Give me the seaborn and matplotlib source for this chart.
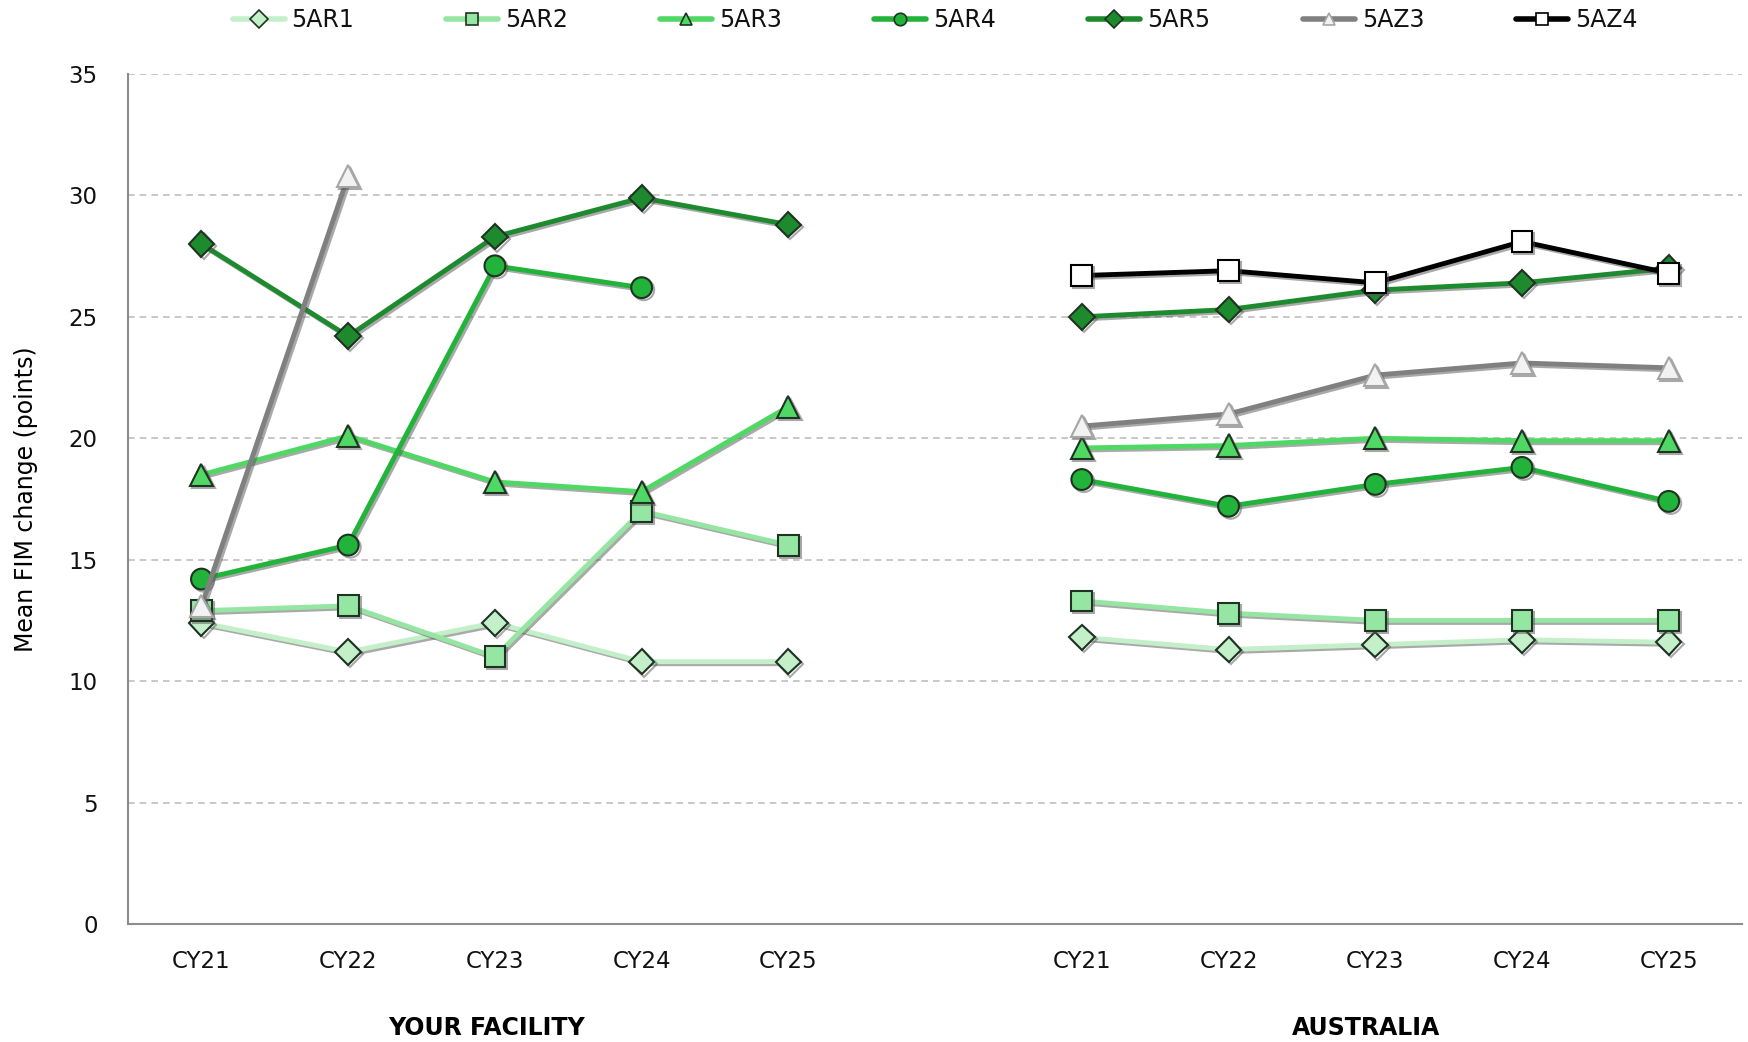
import numpy as np
import pandas as pd
import seaborn as sns
import matplotlib.pyplot as plt
import matplotlib.patheffects as pe
from matplotlib.lines import Line2D

# data
categories = ["CY21", "CY22", "CY23", "CY24", "CY25"]
groups = ["YOUR FACILITY", "AUSTRALIA"]
series = ["5AR1", "5AR2", "5AR3", "5AR4", "5AR5", "5AZ3", "5AZ4"]

# YOUR FACILITY
ar1_fac = [12.4, 11.2, 12.4, 10.8, 10.8]
ar2_fac = [12.9, 13.1, 11.0, 17.0, 15.6]
ar3_fac = [18.5, 20.1, 18.2, 17.8, 21.3]
ar4_fac = [14.2, 15.6, 27.1, 26.2, np.nan]
ar5_fac = [28.0, 24.2, 28.3, 29.9, 28.8]
az3_fac = [13.1, 30.8, np.nan, np.nan, np.nan]
az4_fac = [np.nan, np.nan, np.nan, np.nan, np.nan]

# AUSTRALIA
ar1_aus = [11.8, 11.3, 11.5, 11.7, 11.6]
ar2_aus = [13.3, 12.8, 12.5, 12.5, 12.5]
ar3_aus = [19.6, 19.7, 20.0, 19.9, 19.9]
ar4_aus = [18.3, 17.2, 18.1, 18.8, 17.4]
ar5_aus = [25.0, 25.3, 26.1, 26.4, 27.0]
az3_aus = [20.5, 21.0, 22.6, 23.1, 22.9]
az4_aus = [26.7, 26.9, 26.4, 28.1, 26.8]

fac = [ar1_fac, ar2_fac, ar3_fac, ar4_fac, ar5_fac, az3_fac, az4_fac]
aus = [ar1_aus, ar2_aus, ar3_aus, ar4_aus, ar5_aus, az3_aus, az4_aus]

colors = {"5AR1": "#c4f0c9", "5AR2": "#96e6a3", "5AR3": "#4fd964",
          "5AR4": "#22b33a", "5AR5": "#1e8a2e", "5AZ3": "#808080", "5AZ4": "#000000"}
markers = {"5AR1": "D", "5AR2": "s", "5AR3": "^", "5AR4": "o",
           "5AR5": "D", "5AZ3": "^", "5AZ4": "s"}
msizes = {"D": 13, "s": 15, "^": 16, "o": 15}
face = {"5AZ3": "#f2f2f2", "5AZ4": "white"}
edge = {"5AZ3": "#a6a6a6", "5AZ4": "#000000"}

# build long table
rows = []
for gi, (g, block) in enumerate(zip(groups, [fac, aus])):
    for s, vals in zip(series, block):
        for i, v in enumerate(vals):
            rows.append({"series": s, "group": g, "x": i + gi * 6, "y": v})
df = pd.DataFrame(rows).dropna()

sns.set_style("white")
plt.rcParams['font.family'] = ['DejaVu Sans']
plt.rcParams['text.color'] = "#111111"
plt.rcParams['xtick.color'] = "#111111"
plt.rcParams['ytick.color'] = "#111111"

fig, ax = plt.subplots(figsize=(17.48, 10.42), dpi=100)
fig.subplots_adjust(left=0.0733, right=0.9966, top=0.929, bottom=0.1133)

shadow = [pe.SimpleLineShadow(offset=(1.5, -1.5), shadow_color="#555555", alpha=0.5), pe.Normal()]

for s in series:
    for g in groups:
        d = df[(df["series"] == s) & (df["group"] == g)]
        if d.empty:
            continue
        m = markers[s]
        sns.lineplot(data=d, x="x", y="y", ax=ax, color=colors[s], lw=3.5,
                     marker=m, markersize=msizes[m],
                     markerfacecolor=face.get(s, colors[s]),
                     markeredgecolor=edge.get(s, "#1f3322"), markeredgewidth=1.5,
                     path_effects=shadow, legend=False)

ax.set_xlim(-0.5, 10.5)
ax.set_ylim(0, 35)
ax.set_yticks(range(0, 36, 5))
ax.set_xticks(list(range(5)) + list(range(6, 11)))
ax.set_xticklabels(categories * 2)
ax.tick_params(axis="x", length=0, pad=19, labelsize=16.5)
ax.tick_params(axis="y", length=0, pad=22, labelsize=16.5)
ax.set_xlabel("")
ax.set_ylabel("Mean FIM change (points)", fontsize=17, color="#000000")
ax.yaxis.set_label_coords(-0.056, 0.5)

ax.yaxis.grid(True, linestyle=(0, (4, 3)), color="#bfbfbf", lw=1.2)
ax.set_axisbelow(True)
sns.despine(ax=ax)
for sp in ["left", "bottom"]:
    ax.spines[sp].set_color("#8c8c8c")
    ax.spines[sp].set_linewidth(1.5)

for gi, g in enumerate(groups):
    ax.text(2 + gi * 6 - 0.06, -0.122, g, transform=ax.get_xaxis_transform(),
            ha="center", va="center", fontsize=17, fontweight="semibold", color="#000000")

handles = []
for s in series:
    handles.append(Line2D([], [], color=colors[s], lw=4, marker=markers[s], markersize=9,
                          markerfacecolor=face.get(s, colors[s]),
                          markeredgecolor=edge.get(s, "#1f3322"), markeredgewidth=1.2))
fig.legend(handles, series, loc="center", bbox_to_anchor=(0.535, 0.981), ncol=7,
           frameon=False, fontsize=17, handlelength=2.2, handletextpad=0.3, columnspacing=3.9)

fig.savefig("out.png", dpi=100)
